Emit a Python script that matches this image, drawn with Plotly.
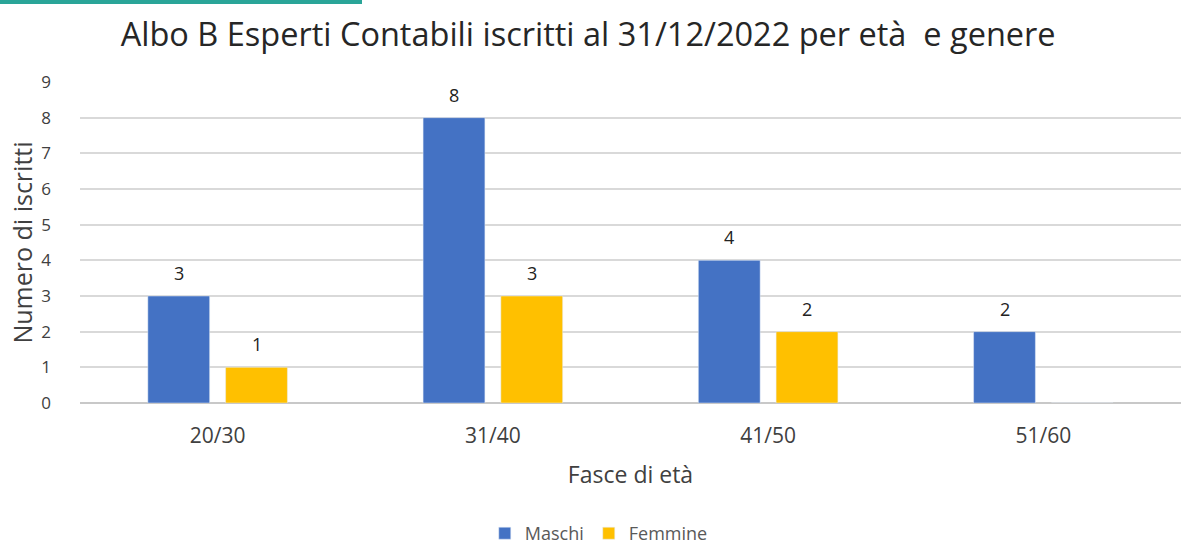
import plotly.graph_objects as go

# Age bands and headcount by gender
fasce = ["20/30", "31/40", "41/50", "51/60"]
maschi = [3, 8, 4, 2]
femmine = [1, 3, 2, 0]

BLUE = "#4472C4"
GOLD = "#FFC000"
FONT = "Open Sans, Lato, sans-serif"

W, H = 1181, 553
ML, MR, MT, MB = 80, 0, 82, 150
PW, PH = W - ML - MR, H - MT - MB

fig = go.Figure()
fig.add_trace(go.Bar(name="Maschi", x=fasce, y=maschi, marker_color=BLUE))
fig.add_trace(go.Bar(name="Femmine", x=fasce, y=femmine, marker_color=GOLD))

fig.update_layout(
    width=W, height=H,
    margin=dict(l=ML, r=MR, t=MT, b=MB),
    paper_bgcolor="white", plot_bgcolor="white",
    barmode="group", bargap=0.435, bargroupgap=0.205,
    font=dict(family=FONT, color="#404040"),
    title=dict(
        text="Albo B Esperti Contabili iscritti al 31/12/2022 per età  e genere",
        x=0.498, xref="container", xanchor="center",
        y=1 - 35 / H, yref="container", yanchor="middle",
        font=dict(size=32.5, color="#262626", family=FONT),
    ),
    legend=dict(
        orientation="h", x=0.507, xanchor="center", xref="container",
        y=1 / H, yref="container", yanchor="bottom",
        font=dict(size=18, color="#595959", family=FONT),
        itemwidth=30, bgcolor="rgba(0,0,0,0)",
    ),
    showlegend=True,
)

fig.update_xaxes(
    showgrid=False, showline=False, ticks="", ticklabelstandoff=18,
    tickfont=dict(size=21, color="#404040", family=FONT),
    title=dict(text="Fasce di età", standoff=18,
               font=dict(size=23, color="#404040", family=FONT)),
)
fig.update_yaxes(
    range=[0, 9], dtick=1, showgrid=True, gridcolor="#d9d9d9", gridwidth=1.5,
    zeroline=True, zerolinecolor="#c8c8c8", zerolinewidth=1.5,
    showline=False, ticks="", ticklabelstandoff=28,
    tickfont=dict(size=17, color="#404040", family=FONT),
    title=dict(text="Numero di iscritti", standoff=1,
               font=dict(size=25, color="#404040", family=FONT)),
)

# Value labels above each bar, offset to the bar's slot within the group
slot_px = (1 - 0.435) * PW / len(fasce) / 2
for vals, dx in ((maschi, -slot_px / 2), (femmine, slot_px / 2)):
    for cat, v in zip(fasce, vals):
        if v:
            fig.add_annotation(
                x=cat, y=v, text=str(v), showarrow=False,
                xshift=dx, yshift=23, yanchor="middle",
                font=dict(size=18, color="#222222", family=FONT),
            )

# Accent strip along the top-left edge of the page
fig.add_shape(
    type="rect", xref="paper", yref="paper", layer="above",
    x0=-ML / PW, x1=(362 - ML) / PW,
    y0=(MT + PH - 4) / PH, y1=(MT + PH) / PH,
    fillcolor="#2aa598", line=dict(width=0),
)

fig.write_html("out.html")
